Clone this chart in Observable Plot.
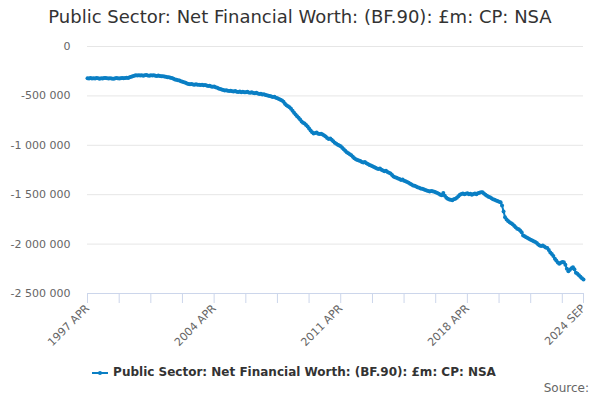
<!DOCTYPE html>
<html>
<head>
<meta charset="utf-8">
<script src="https://cdn.jsdelivr.net/npm/d3@7"></script>
<script src="https://cdn.jsdelivr.net/npm/@observablehq/plot@0.6"></script>
<style>
  html, body { margin: 0; padding: 0; background: #fff; }
  body { width: 600px; height: 400px; position: relative; font-family: "DejaVu Sans", sans-serif; overflow: hidden; }
  #title { position: absolute; left: 0; top: 6px; width: 600px; text-align: center; font-size: 18px; color: #333; }
  #chart { position: absolute; left: 0; top: 36px; }
  #legend { position: absolute; left: -6px; top: 365px; width: 600px; text-align: center; font-size: 12px; font-weight: bold; color: #333; }
  #legend svg { vertical-align: middle; margin-right: 5px; }
  #source { position: absolute; right: 11px; top: 381px; font-size: 12px; color: #666; }
</style>
</head>
<body>
<div id="title">Public Sector: Net Financial Worth: (BF.90): £m: CP: NSA</div>
<div id="chart"></div>
<div id="legend"><svg width="16" height="10"><line x1="0" y1="5" x2="16" y2="5" stroke="#0a7fc4" stroke-width="2"/><circle cx="8" cy="5" r="2" fill="#0a7fc4"/></svg>Public Sector: Net Financial Worth: (BF.90): £m: CP: NSA</div>
<div id="source">Source:</div>
<script>
const seriesName = "Public Sector: Net Financial Worth: (BF.90): £m: CP: NSA";
const firstMonth = "1997-04";
const lastMonth = "2024-09";
// Monthly values, £m (Apr 1997 .. Sep 2024), one row per year starting April
const values = [
  -321000, -323000, -320000, -325000, -322000, -324000, -319000, -322000, -326000, -321000, -324000, -320000,
  -318000, -322000, -325000, -321000, -323000, -327000, -324000, -320000, -322000, -325000, -321000, -318000,
  -322000, -319000, -316000, -320000, -312000, -305000, -300000, -296000, -292000, -294000, -290000, -293000,
  -291000, -295000, -292000, -289000, -293000, -296000, -291000, -294000, -290000, -295000, -298000, -294000,
  -299000, -302000, -300000, -304000, -306000, -310000, -312000, -316000, -320000, -326000, -333000, -337000,
  -341000, -345000, -352000, -358000, -363000, -367000, -375000, -380000, -382000, -380000, -384000, -386000,
  -383000, -388000, -386000, -390000, -387000, -392000, -390000, -395000, -400000, -398000, -404000, -408000,
  -406000, -412000, -418000, -425000, -430000, -435000, -440000, -445000, -442000, -448000, -450000, -447000,
  -452000, -455000, -451000, -457000, -460000, -456000, -462000, -459000, -464000, -462000, -458000, -465000,
  -468000, -463000, -470000, -473000, -469000, -476000, -480000, -478000, -486000, -483000, -490000, -494000,
  -498000, -502000, -506000, -510000, -508000, -518000, -525000, -532000, -540000, -547000, -560000, -580000,
  -595000, -606000, -614000, -630000, -650000, -670000, -688000, -705000, -720000, -740000, -760000, -772000,
  -780000, -795000, -810000, -830000, -850000, -867000, -880000, -875000, -870000, -882000, -885000, -884000,
  -890000, -900000, -912000, -925000, -935000, -930000, -945000, -960000, -975000, -985000, -995000, -1002000,
  -1010000, -1025000, -1040000, -1055000, -1070000, -1080000, -1090000, -1100000, -1115000, -1130000, -1140000, -1148000,
  -1154000, -1160000, -1168000, -1175000, -1170000, -1182000, -1190000, -1200000, -1205000, -1212000, -1220000, -1228000,
  -1235000, -1240000, -1236000, -1248000, -1255000, -1262000, -1258000, -1270000, -1278000, -1285000, -1300000, -1315000,
  -1323000, -1328000, -1335000, -1340000, -1350000, -1345000, -1358000, -1365000, -1372000, -1380000, -1390000, -1398000,
  -1407000, -1410000, -1418000, -1425000, -1430000, -1436000, -1440000, -1445000, -1452000, -1458000, -1462000, -1468000,
  -1462000, -1466000, -1470000, -1475000, -1482000, -1490000, -1500000, -1505000, -1484000, -1510000, -1530000, -1540000,
  -1548000, -1552000, -1555000, -1545000, -1540000, -1530000, -1515000, -1500000, -1492000, -1488000, -1495000, -1490000,
  -1485000, -1495000, -1491000, -1500000, -1493000, -1488000, -1495000, -1485000, -1480000, -1476000, -1474000, -1488000,
  -1500000, -1510000, -1520000, -1525000, -1535000, -1545000, -1550000, -1558000, -1565000, -1572000, -1576000, -1610000,
  -1670000, -1727000, -1750000, -1765000, -1778000, -1790000, -1800000, -1815000, -1830000, -1845000, -1850000, -1862000,
  -1880000, -1913000, -1920000, -1930000, -1938000, -1948000, -1955000, -1963000, -1970000, -1978000, -1990000, -2005000,
  -2014000, -2020000, -2015000, -2025000, -2035000, -2040000, -2060000, -2085000, -2100000, -2120000, -2148000, -2165000,
  -2185000, -2199000, -2190000, -2180000, -2183000, -2210000, -2250000, -2275000, -2260000, -2245000, -2234000, -2255000,
  -2290000, -2300000, -2315000, -2330000, -2345000, -2358000
];
const yTicks = [0, -500000, -1000000, -1500000, -2000000, -2500000];
const tickEveryMonths = 21;
const labelledTicks = ["1997 APR", "2004 APR", "2011 APR", "2018 APR", "2024 SEP"];

const monthNames = ["JAN","FEB","MAR","APR","MAY","JUN","JUL","AUG","SEP","OCT","NOV","DEC"];
const start = new Date(firstMonth + "-01T00:00:00Z");
const end = new Date(lastMonth + "-01T00:00:00Z");
const months = d3.utcMonth.range(start, d3.utcMonth.offset(end, 1));
const data = values.map((v, i) => ({date: months[i], value: v}));
const fmtMonth = d => `${d.getUTCFullYear()} ${monthNames[d.getUTCMonth()]}`;

const xTicks = d3.utcMonth.every(1).range(start, end).filter((d, i) => i % tickEveryMonths === 0);
xTicks.push(end);

const locale = d3.formatLocale({decimal: ".", thousands: " ", grouping: [3], currency: ["", ""], minus: "-"});
const fmtY = locale.format(",");

const color = "#0a7fc4";
const chart = Plot.plot({
  width: 600,
  height: 322,
  marginLeft: 87,
  marginRight: 17,
  marginTop: 10,
  marginBottom: 65,
  style: {fontFamily: "DejaVu Sans, sans-serif", fontSize: "11px", color: "#666", background: "#fff"},
  x: {type: "utc", domain: [start, end]},
  y: {domain: [-2500000, 0]},
  marks: [
    Plot.gridY(yTicks.filter(t => t !== -2500000), {stroke: "#e6e6e6", strokeOpacity: 1}),
    Plot.axisY(yTicks, {tickFormat: fmtY, tickSize: 0, tickPadding: 17, label: null, fill: "#666", fontSize: 11}),
    Plot.ruleY([-2500000], {stroke: "#ccd6eb"}),
    Plot.axisX(xTicks, {
      tickSize: 10, stroke: "#ccd6eb", strokeOpacity: 1,
      tickFormat: d => labelledTicks.includes(fmtMonth(d)) ? fmtMonth(d) : "",
      tickRotate: -45, tickPadding: 3, label: null, fill: "#666", fontSize: 11
    }),
    Plot.line(data, {x: "date", y: "value", stroke: color, strokeWidth: 2}),
    Plot.dot(data, {x: "date", y: "value", fill: color, r: 2, stroke: "none"})
  ]
});
document.getElementById("chart").appendChild(chart);
</script>
</body>
</html>
